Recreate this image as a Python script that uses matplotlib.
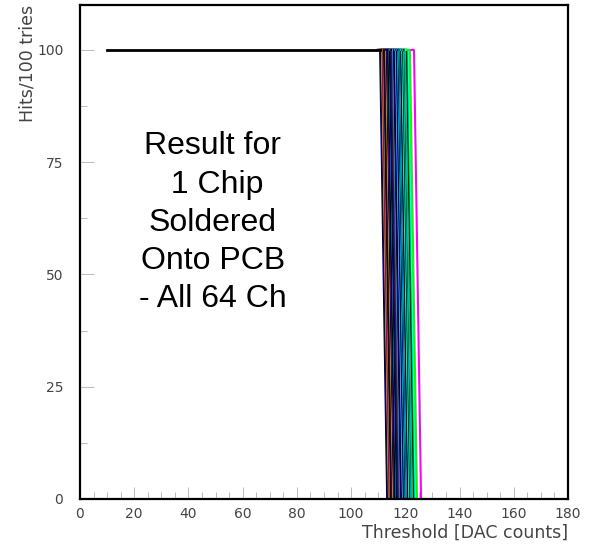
import matplotlib
matplotlib.use("Agg")
import matplotlib.pyplot as plt
from matplotlib.ticker import MultipleLocator

# DAC value where each channel's efficiency starts to drop from 100 hits
thresholds = [110.7, 111.0, 111.2, 111.4, 111.6, 111.7, 111.9, 112.0, 112.2, 112.3,
              112.5, 112.6, 112.8, 112.9, 113.0, 113.2, 113.3, 113.5, 113.6, 113.8,
              113.9, 114.0, 114.2, 114.3, 114.5, 114.6, 114.8, 115.0, 115.1, 115.3,
              115.5, 115.6, 115.8, 116.0, 116.1, 116.3, 116.5, 116.6, 116.8, 117.0,
              117.1, 117.3, 117.5, 117.6, 117.8, 118.0, 118.2, 118.4, 118.5, 118.7,
              118.9, 119.0, 119.2, 119.4, 119.6, 119.8, 120.0, 120.2, 120.4, 120.6,
              120.9, 121.2, 121.7, 123.2]
colors = ['black', 'blue', 'black', 'yellow', 'black', 'magenta', 'black', 'orange',
          'black', 'black', 'blue', 'black', 'red', 'black', 'yellow', 'black',
          'black', 'magenta', 'black', 'blue', 'black', 'black', 'cyan', 'black',
          'black', 'blue', 'black', 'green', 'black', 'magenta', 'black', 'cyan',
          'black', 'blue', 'black', 'black', 'magenta', 'cyan', 'blue', 'black',
          'black', 'cyan', 'blue', 'black', 'cyan', 'black', 'cyan', 'blue',
          'black', 'black', 'cyan', 'cyan', 'black', 'green', 'cyan', 'black',
          'cyan', 'green', 'cyan', 'black', 'green', 'cyan', 'lime', 'magenta']
drop_width = 2.6
x_start = 10
hits_max = 100
hits_min = 0

fig = plt.figure(figsize=(5.94, 5.48), dpi=100)
ax = fig.add_axes([80 / 594, 49 / 548, 488 / 594, 494 / 548])

for t, c in zip(thresholds, colors):
    ax.plot([t - 1.0, t, t + drop_width], [hits_max, hits_max, hits_min],
            color=c, lw=1.5, solid_joinstyle='round')
ax.plot([x_start, thresholds[0]], [hits_max, hits_max], color='black', lw=2.0)

ax.set_xlim(0, 180)
ax.set_ylim(0, 110)
ax.xaxis.set_major_locator(MultipleLocator(20))
ax.xaxis.set_minor_locator(MultipleLocator(5))
ax.set_yticks([0, 25, 50, 75, 100])
ax.yaxis.set_minor_locator(MultipleLocator(12.5))
ax.tick_params(which='both', direction='in', top=False, right=False,
               colors='#b0b0b0', labelcolor='#444444', labelsize=10)
ax.tick_params(axis='y', which='major', length=10, width=0.6, pad=12)
ax.tick_params(axis='x', which='major', length=9, width=0.6, pad=6)
ax.tick_params(which='minor', length=5, width=0.6)
for sp in ax.spines.values():
    sp.set_linewidth(1.6)
    sp.set_color('black')

ax.set_xlabel('Threshold [DAC counts]', fontsize=12.5, color='#444444',
              ha='right', x=1.0, labelpad=2)
ax.set_ylabel('Hits/100 tries', fontsize=12.5, color='#444444',
              ha='right', y=1.0, labelpad=0)

ax.text(0.2725, 0.559, 'Result for\n 1 Chip\nSoldered\nOnto PCB\n- All 64 Ch',
        transform=ax.transAxes, ha='center', va='center', fontsize=23,
        family='Liberation Sans', linespacing=1.36, multialignment='center')

fig.savefig('out.png', dpi=100)
